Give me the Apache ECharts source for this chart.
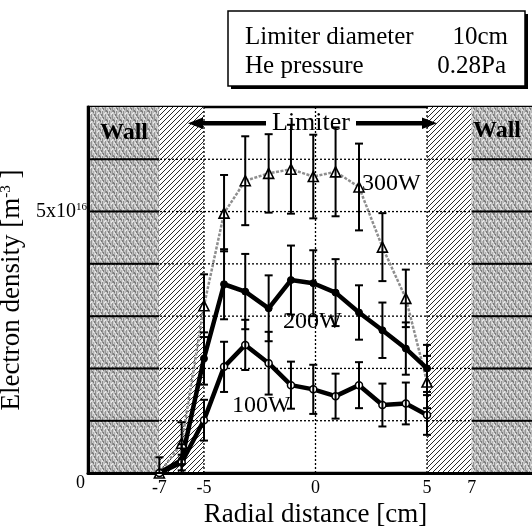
<!DOCTYPE html>
<html>
<head>
<meta charset="utf-8">
<script src="https://cdn.jsdelivr.net/npm/echarts@6/dist/echarts.min.js"></script>
<style>
html,body{margin:0;padding:0;background:#fff;}
#chart{width:532px;height:529px;}
</style>
</head>
<body>
<div id="chart"></div>
<script>
// ---- data (x in cm, density in units of 1e16 m^-3) ----
const xPos = [-7, -6, -5, -4.1, -3.15, -2.1, -1.1, -0.1, 0.9, 1.95, 3, 4.05, 5];
const seriesNames = ['300W', '200W', '100W'];
const val300 = [0, 0.57, 3.2, 4.97, 5.59, 5.73, 5.81, 5.67, 5.76, 5.47, 4.32, 3.34, 1.74];
const err300 = [0, 0.4, 0.6, 0.73, 0.85, 0.75, 0.85, 0.8, 0.85, 0.83, 0.65, 0.55, 0.5];
const val200 = [0, 0.25, 2.19, 3.61, 3.47, 3.15, 3.69, 3.63, 3.45, 3.07, 2.73, 2.38, 2.0];
const err200 = [0, 0.3, 0.5, 0.67, 0.72, 0.63, 0.66, 0.63, 0.64, 0.52, 0.53, 0.5, 0.45];
const val100 = [0, 0.2, 1.01, 2.03, 2.45, 2.10, 1.68, 1.6, 1.47, 1.68, 1.30, 1.33, 1.11];
const err100 = [0.3, 0.15, 0.39, 0.48, 0.48, 0.6, 0.45, 0.47, 0.43, 0.44, 0.41, 0.4, 0.38];

const xMin = -10.2, xMax = 10.2;
const yMin = 0, yMax = 7;
const xTickLabels = [-7, -5, 0, 5, 7];
const yTickValues = [0, 5];
const yTickTexts = ['0', '5x10^16'];
const xGridLines = [-5, 0, 5];
const yGridLines = [1, 2, 3, 4, 5, 6];
const regionStart = [-10.2, -7, 5, 7];
const regionEnd = [-7, -5, 7, 10.2];
const regionKind = ['wall', 'hatch', 'hatch', 'wall'];

const FONT = '"Liberation Serif", "Times New Roman", serif';

function makeHatch() {
  const c = document.createElement('canvas');
  const s = 5;
  c.width = s; c.height = s;
  const g = c.getContext('2d');
  g.fillStyle = '#ffffff'; g.fillRect(0, 0, s, s);
  g.strokeStyle = '#111'; g.lineWidth = 0.9;
  g.beginPath();
  g.moveTo(-1, s + 1); g.lineTo(s + 1, -1);
  g.moveTo(-1 - s, s + 1); g.lineTo(1, -1);
  g.moveTo(s - 1, s + 1); g.lineTo(2 * s + 1, -1);
  g.stroke();
  return c;
}
function makeWall() {
  const c = document.createElement('canvas');
  const w = 7, h = 9;
  c.width = w; c.height = h;
  const g = c.getContext('2d');
  const cols = ['#959595', '#cdcdcd', '#b0b0b0', '#d4d4d4', '#8f8f8f', '#c6c6c6', '#b8b8b8'];
  for (let i = 0; i < w; i++) { g.fillStyle = cols[i]; g.fillRect(i, 0, 1, h); }
  g.fillStyle = '#e4e4e4';
  [[0,4],[2,7],[4,1],[6,5]].forEach(p => g.fillRect(p[0], p[1], 1, 2));
  g.fillStyle = '#7c7c7c';
  [[1,2],[3,6],[5,0],[2,3]].forEach(p => g.fillRect(p[0], p[1], 1, 2));
  return c;
}
const hatchPat = { image: makeHatch(), repeat: 'repeat' };
const wallPat = { image: makeWall(), repeat: 'repeat' };

function lineData(vals) { return xPos.map((x, i) => [x, vals[i]]); }
function errData(vals, errs) { return xPos.map((x, i) => [x, Math.max(yMin, vals[i] - errs[i]), vals[i] + errs[i]]); }

function renderErr(params, api) {
  const x = api.value(0);
  const lo = api.coord([x, api.value(1)]);
  const hi = api.coord([x, api.value(2)]);
  const cap = 4;
  const st = { stroke: '#000', lineWidth: 2 };
  return {
    type: 'group',
    children: [
      { type: 'line', shape: { x1: lo[0], y1: lo[1], x2: hi[0], y2: hi[1] }, style: st },
      { type: 'line', shape: { x1: lo[0] - cap, y1: lo[1], x2: lo[0] + cap, y2: lo[1] }, style: st },
      { type: 'line', shape: { x1: hi[0] - cap, y1: hi[1], x2: hi[0] + cap, y2: hi[1] }, style: st }
    ]
  };
}

function renderRegion(params, api) {
  const i = params.dataIndex;
  const p0 = api.coord([api.value(0), yMax]);
  const p1 = api.coord([api.value(1), yMin]);
  const kind = regionKind[i];
  const children = [{
    type: 'rect',
    shape: { x: p0[0], y: p0[1], width: p1[0] - p0[0], height: p1[1] - p0[1] },
    style: { fill: kind === 'wall' ? wallPat : hatchPat }
  }];
  if (kind === 'wall') {
    yGridLines.forEach(v => {
      const y = api.coord([0, v])[1];
      children.push({ type: 'line', shape: { x1: p0[0], y1: y, x2: p1[0], y2: y },
        style: { stroke: '#000', lineWidth: 2 } });
    });
  }
  return { type: 'group', children };
}

function renderGrid(params, api) {
  const children = [];
  const tl = api.coord([xMin, yMax]);
  const br = api.coord([xMax, yMin]);
  const st = { stroke: '#000', lineWidth: 1.3, lineDash: [2, 2] };
  yGridLines.forEach(v => {
    const y = api.coord([0, v])[1];
    children.push({ type: 'line', shape: { x1: tl[0], y1: y, x2: br[0], y2: y }, style: st });
  });
  xGridLines.forEach(v => {
    const x = api.coord([v, 0])[0];
    children.push({ type: 'line', shape: { x1: x, y1: tl[1], x2: x, y2: br[1] }, style: st });
  });
  return { type: 'group', children };
}

const chart = echarts.init(document.getElementById('chart'), null, { renderer: 'canvas' });

const option = {
  animation: false,
  backgroundColor: '#fff',
  grid: {
    left: 88, top: 107, width: 455, height: 366,
    show: true, borderColor: '#000', borderWidth: 2.5,
    outerBoundsMode: 'none', containLabel: false
  },
  xAxis: {
    type: 'value', min: xMin, max: xMax,
    name: 'Radial distance [cm]', nameLocation: 'middle', nameGap: 26,
    nameTextStyle: { fontFamily: FONT, fontSize: 27, color: '#000' },
    axisLine: { show: true, onZero: false, lineStyle: { color: '#000', width: 3 } },
    axisTick: { show: false },
    splitLine: { show: false },
    axisLabel: {
      customValues: xTickLabels, margin: 6,
      fontFamily: FONT, fontSize: 18, color: '#000',
      formatter: v => String(v)
    }
  },
  yAxis: {
    type: 'value', min: yMin, max: yMax, interval: 1,
    name: '{a|Electron density [m}{s|-3}{a| ]}', nameLocation: 'middle', nameGap: 45, nameRotate: 90,
    nameTextStyle: {
      rich: {
        a: { fontFamily: FONT, fontSize: 27, color: '#000' },
        s: { fontFamily: FONT, fontSize: 15, color: '#000', verticalAlign: 'top' }
      }
    },
    axisLine: { show: true, onZero: false, lineStyle: { color: '#000', width: 3 } },
    axisTick: { show: false },
    splitLine: { show: false },
    axisLabel: {
      customValues: yTickValues, margin: 1,
      formatter: function (v) {
        const t = yTickTexts[yTickValues.indexOf(v)] || '';
        if (t.indexOf('^') >= 0) {
          const p = t.split('^');
          return '{b|' + p[0] + '}{s|' + p[1] + '}';
        }
        return '{z|' + t + '}';
      },
      rich: {
        b: { fontFamily: FONT, fontSize: 20, color: '#000', verticalAlign: 'bottom' },
        s: { fontFamily: FONT, fontSize: 11, color: '#000', verticalAlign: 'top' },
        z: { fontFamily: FONT, fontSize: 18, color: '#000', padding: [20, 2, 0, 0] }
      }
    }
  },
  series: [
    {
      type: 'custom', name: 'regions', z: 0, silent: true,
      renderItem: renderRegion,
      data: regionStart.map((s, i) => [s, regionEnd[i]])
    },
    {
      type: 'custom', name: 'grid', z: 1, silent: true,
      renderItem: renderGrid,
      data: [[0]]
    },
    {
      type: 'line', name: seriesNames[0], z: 3,
      data: lineData(val300),
      lineStyle: { color: '#8e8e8e', width: 2.5, type: [3, 1.5] },
      symbol: 'triangle', symbolSize: 10,
      itemStyle: { color: '#fff', borderColor: '#000', borderWidth: 1.6 }
    },
    {
      type: 'line', name: seriesNames[1], z: 3,
      data: lineData(val200),
      lineStyle: { color: '#000', width: 4.5 },
      symbol: 'circle', symbolSize: 7,
      itemStyle: { color: '#000', borderColor: '#000', borderWidth: 1 }
    },
    {
      type: 'line', name: seriesNames[2], z: 3,
      data: lineData(val100),
      lineStyle: { color: '#000', width: 4.5 },
      symbol: 'circle', symbolSize: 7,
      itemStyle: { color: '#fff', borderColor: '#000', borderWidth: 1.5 }
    },
    { type: 'custom', z: 4, silent: true, renderItem: renderErr, data: errData(val300, err300) },
    { type: 'custom', z: 4, silent: true, renderItem: renderErr, data: errData(val200, err200) },
    { type: 'custom', z: 4, silent: true, renderItem: renderErr, data: errData(val100, err100) }
  ],
  graphic: [
    // info box
    { type: 'rect', shape: { x: 231, y: 14, width: 297, height: 75 }, style: { fill: '#000' }, z: 10 },
    { type: 'rect', shape: { x: 228, y: 11, width: 297, height: 75 }, style: { fill: '#fff', stroke: '#000', lineWidth: 1.5 }, z: 11 },
    { type: 'text', z: 12, style: { text: 'Limiter diameter', x: 245, y: 37, font: '25px ' + FONT, fill: '#000', textAlign: 'left', textVerticalAlign: 'middle', align: 'left', verticalAlign: 'middle' } },
    { type: 'text', z: 12, style: { text: '10cm', x: 508, y: 37, font: '25px ' + FONT, fill: '#000', textAlign: 'right', textVerticalAlign: 'middle', align: 'right', verticalAlign: 'middle' } },
    { type: 'text', z: 12, style: { text: 'He pressure', x: 245, y: 66, font: '25px ' + FONT, fill: '#000', textAlign: 'left', textVerticalAlign: 'middle', align: 'left', verticalAlign: 'middle' } },
    { type: 'text', z: 12, style: { text: '0.28Pa', x: 506, y: 66, font: '25px ' + FONT, fill: '#000', textAlign: 'right', textVerticalAlign: 'middle', align: 'right', verticalAlign: 'middle' } },
    // Limiter arrow
    { type: 'rect', z: 12, shape: { x: 200, y: 121, width: 66, height: 4.5 }, style: { fill: '#000' } },
    { type: 'rect', z: 12, shape: { x: 356, y: 121, width: 68, height: 4.5 }, style: { fill: '#000' } },
    { type: 'polygon', z: 12, shape: { points: [[188, 123.2], [203, 117.5], [203, 129]] }, style: { fill: '#000' } },
    { type: 'polygon', z: 12, shape: { points: [[437, 123.2], [422, 117.5], [422, 129]] }, style: { fill: '#000' } },
    { type: 'text', z: 12, style: { text: 'Limiter', x: 311, y: 123, font: '26px ' + FONT, fill: '#000', textAlign: 'center', textVerticalAlign: 'middle', align: 'center', verticalAlign: 'middle' } },
    // wall labels
    { type: 'text', z: 12, style: { text: 'Wall', x: 100, y: 133, font: 'bold 24px ' + FONT, fill: '#000', textAlign: 'left', textVerticalAlign: 'middle', align: 'left', verticalAlign: 'middle' } },
    { type: 'text', z: 12, style: { text: 'Wall', x: 473, y: 131, font: 'bold 24px ' + FONT, fill: '#000', textAlign: 'left', textVerticalAlign: 'middle', align: 'left', verticalAlign: 'middle' } },
    // series labels
    { type: 'text', z: 12, style: { text: seriesNames[0], x: 362, y: 184, font: '24px ' + FONT, fill: '#000', textAlign: 'left', textVerticalAlign: 'middle', align: 'left', verticalAlign: 'middle' } },
    { type: 'text', z: 12, style: { text: seriesNames[1], x: 283, y: 322, font: '24px ' + FONT, fill: '#000', textAlign: 'left', textVerticalAlign: 'middle', align: 'left', verticalAlign: 'middle' } },
    { type: 'text', z: 12, style: { text: seriesNames[2], x: 232, y: 406, font: '24px ' + FONT, fill: '#000', textAlign: 'left', textVerticalAlign: 'middle', align: 'left', verticalAlign: 'middle' } }
  ]
};
chart.setOption(option);
</script>
</body>
</html>
